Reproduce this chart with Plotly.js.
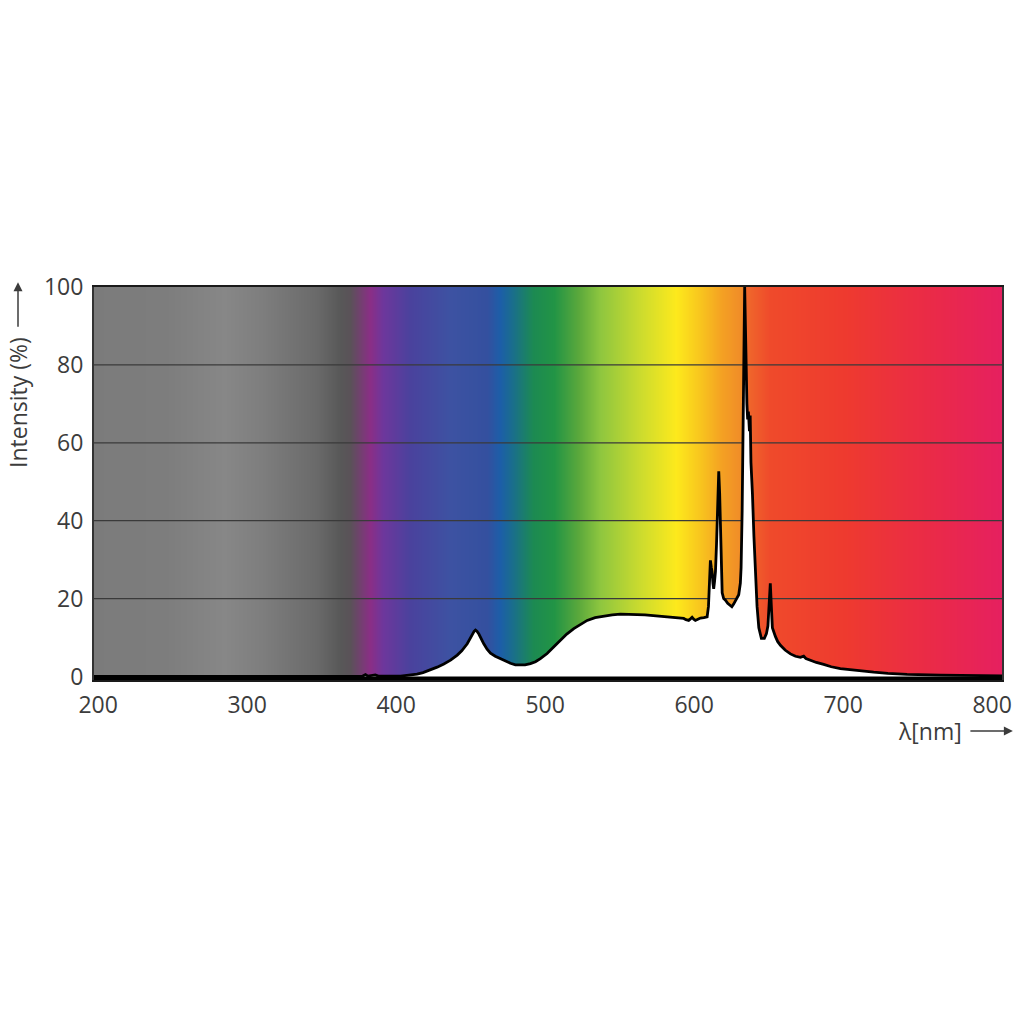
<!DOCTYPE html>
<html>
<head>
<meta charset="utf-8">
<script src="https://cdn.plot.ly/plotly-3.0.1.min.js"></script>
<style>html,body{margin:0;padding:0;background:#fff;}#chart{width:1024px;height:1024px;}</style>
</head>
<body>
<div id="chart"></div>
<script>
// Spectrum (wavelength in nm, relative intensity in %)
const wavelength = [197.2,377,379.4,381,386,388,403,410,414,418,423,427.5,432,436.5,441,444,447.7,449.5,451,452.3,453.2,454.2,455.5,457,458.8,461,463.3,466.5,470,473,476.7,480,483.4,486.5,490.1,493.5,496.8,501.3,505.5,510.3,514.5,519.2,523.5,528.2,533.5,539.3,545,550.5,556,561.7,567,572.9,578.5,584.1,589,593,594.5,596.3,597.5,598.6,599.7,600.8,602.5,604.2,606.5,608.7,609.6,610.2,610.9,611.5,612.0,612.6,613.1,613.7,614.3,615.0,615.7,616.5,617.1,617.6,618.2,618.8,619.8,621,622.5,624.3,625.3,626.5,628,629.9,631,631.5,632.2,632.7,633.2,633.9,634.4,634.8,635.4,635.9,636.4,637.1,637.6,638.1,638.5,639.1,640.1,641.1,642.2,643.4,645.1,647.1,648.5,649.5,650.5,651.1,651.8,652.5,654.5,656,657.9,661,664.6,668,671.3,673.5,675,678,682,686.9,692,698.1,709.3,720.5,730,742.9,765.2,787.5,806.6];
const intensity = [0,0,0.5,0.1,0.4,0.1,0.1,0.3,0.6,1.0,1.7,2.4,3.2,4.2,5.5,6.6,8.4,9.6,10.9,11.6,11.9,11.6,10.9,9.7,8.4,7.0,6.0,5.2,4.6,3.9,3.4,3.0,2.9,3.0,3.3,3.8,4.6,5.9,7.5,9.3,10.9,12.3,13.4,14.4,15.1,15.5,15.8,16.0,16.0,15.9,15.8,15.6,15.5,15.3,15.1,14.9,14.6,14.4,14.8,15.2,14.7,14.4,14.7,15.0,15.1,15.3,18,23,29.8,28,27,24,22.5,24.5,27,34,44,52.7,47,38,28,21.5,20,19.6,18.8,18.2,17.9,18.6,19.6,21,24,28,42.5,60,78,100,90,80,70,66,68,63,67,55,49,47,36,27,18,12.5,9.8,9.8,11,13,18.5,23.9,18,12.5,10.3,9.0,8.0,6.8,5.8,5.2,4.9,5.2,4.6,4.1,3.6,3.1,2.5,2.0,1.5,1.1,0.8,0.55,0.35,0.2,0.15];

// Background colour band (wavelength stops and colours)
const bgWavelength = [190,245.3,284.2,309,346.5,362.6,369.3,382.7,391.4,409.5,436.4,461.2,470,478.7,492.1,505.6,521.7,537.1,564.6,588.1,604.2,619,631.7,634.4,651.1,701.4,759.8,815];
const bgColor = ['#7b7b7b','#7d7d7d','#878787','#7e7e7e','#6a6a6a','#585858','#5a5258','#8a2e86','#6d379c','#4a429d','#3d52a2','#34509f','#1c5ea8','#1a6f8a','#1c8a52','#229445','#5aa83c','#8ec63f','#cddc2e','#fde91c','#f8c51e','#f4a023','#f08c28','#ef6a2b','#ef4a2b','#ee3a2f','#ea2a48','#e51e64'];

const xTicks = [200,300,400,500,600,700,800];
const yTicks = [0,20,40,60,80,100];
const gridLevels = [20,40,60,80];

const xRange = [197.2, 806.6];
const yRange = [-0.9, 100];

const n = bgColor.length;
const colorscale = bgColor.map((c,i)=>[i/(n-1), c]);
const bgIndex = bgColor.map((c,i)=>i);

// heatmap rows given by their edges: the band starts exactly at 0
const bg = {
  type:'heatmap', x:bgWavelength, y:[0,50,110], z:[bgIndex,bgIndex],
  colorscale:colorscale, zmin:0, zmax:n-1, zsmooth:'best',
  showscale:false, hoverinfo:'skip'
};

const gx=[], gy=[];
gridLevels.forEach(v=>{gx.push(xRange[0],xRange[1],null); gy.push(v,v,null);});
const grid = {type:'scatter', mode:'lines', x:gx, y:gy, line:{color:'#3a3a3a', width:1.2}, hoverinfo:'skip', showlegend:false};

const spec = {
  type:'scatter', mode:'lines', x:wavelength, y:intensity,
  fill:'tozeroy', fillcolor:'#ffffff',
  line:{color:'#000000', width:2.8}, showlegend:false
};

const font = {family:'"Open Sans", "Noto Sans", sans-serif', size:23, color:'#3c3c3c'};

const layout = {
  width:1024, height:1024,
  margin:{l:94, r:22, t:287, b:344},
  paper_bgcolor:'#ffffff', plot_bgcolor:'#000000',
  showlegend:false,
  font:font,
  xaxis:{range:xRange, tickvals:xTicks, ticktext:xTicks.map(String), showgrid:false, zeroline:false,
         showline:true, mirror:true, linecolor:'#1a1a1a', linewidth:2, ticks:'', ticklabelstandoff:3,
         tickfont:font, fixedrange:true},
  yaxis:{range:yRange, tickvals:yTicks, ticktext:yTicks.map(String), showgrid:false, zeroline:false,
         showline:true, mirror:true, linecolor:'#333333', linewidth:2, ticks:'', ticklabelstandoff:4,
         tickfont:font, fixedrange:true},
  annotations:[
    {xref:'paper', yref:'paper', x:-0.0837, y:0.705, text:'Intensity (%)', textangle:-90,
     showarrow:false, xanchor:'center', yanchor:'middle', font:font},
    {xref:'paper', yref:'paper', x:-0.0837, y:1.012, ax:0, ay:46, text:'', showarrow:true,
     arrowhead:2, arrowsize:1.2, arrowwidth:1.5, arrowcolor:'#3c3c3c'},
    {xref:'paper', yref:'paper', x:0.921, y:-0.130, text:'λ[nm]', showarrow:false,
     xanchor:'center', yanchor:'middle', font:font},
    {xref:'paper', yref:'paper', x:1.012, y:-0.130, ax:-44, ay:0, text:'', showarrow:true,
     arrowhead:2, arrowsize:1.2, arrowwidth:1.5, arrowcolor:'#3c3c3c'}
  ]
};

Plotly.newPlot('chart', [bg, grid, spec], layout, {displayModeBar:false, staticPlot:true});
</script>
</body>
</html>
